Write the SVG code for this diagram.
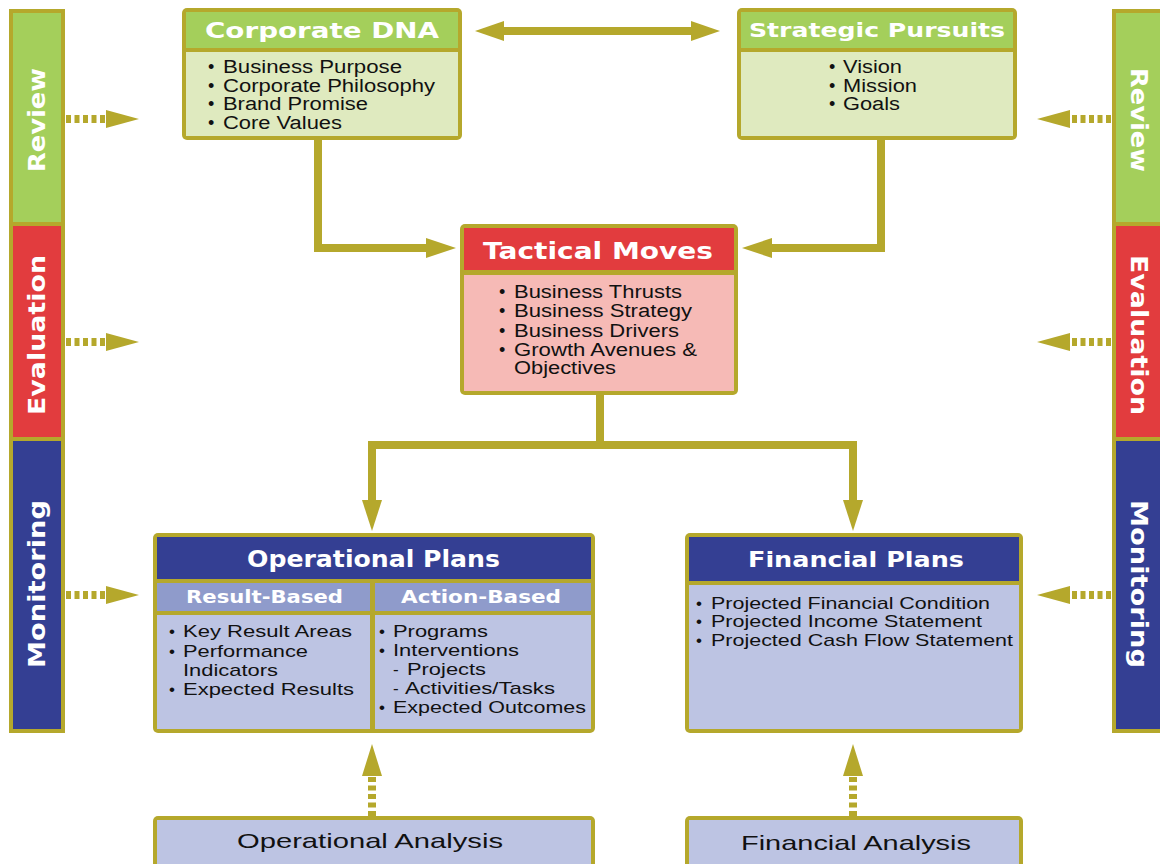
<svg xmlns="http://www.w3.org/2000/svg" width="1160" height="864" viewBox="0 0 1160 864">
<style>
.ol{fill:#b5a82c}
.gh{fill:#a4cf5b}
.gb{fill:#dfeabf}
.rh{fill:#e23c3e}
.rb{fill:#f6bab6}
.bh{fill:#343f93}
.bs{fill:#8f9bcb}
.bb{fill:#bdc4e3}
.hd{font-family:"DejaVu Sans","Liberation Sans",Arial,sans-serif;font-weight:bold;fill:#ffffff}
.tx{font-family:"Liberation Sans",Arial,sans-serif;fill:#111111}
.ln{stroke:#b5a82c;stroke-width:8;fill:none}
.dl{stroke:#b5a82c;stroke-width:8;fill:none;stroke-dasharray:5 3.5}
.ah{fill:#b5a82c}
</style>
<rect width="1160" height="864" fill="#ffffff"/>

<g id="sidebar-left">
<rect class="ol" x="9" y="9" width="56" height="724"/>
<rect class="gh" x="13" y="13" width="48" height="209"/>
<rect class="rh" x="13" y="226" width="48" height="211"/>
<rect class="bh" x="13" y="441" width="48" height="288"/>
<text class="hd" font-size="23" text-anchor="middle" transform="translate(45,120) rotate(-90)" textLength="104" lengthAdjust="spacingAndGlyphs">Review</text>
<text class="hd" font-size="23" text-anchor="middle" transform="translate(45,335) rotate(-90)" textLength="160" lengthAdjust="spacingAndGlyphs">Evaluation</text>
<text class="hd" font-size="23" text-anchor="middle" transform="translate(45,584) rotate(-90)" textLength="168" lengthAdjust="spacingAndGlyphs">Monitoring</text>
</g>

<g id="sidebar-right">
<rect class="ol" x="1112" y="9" width="56" height="724"/>
<rect class="gh" x="1116" y="13" width="48" height="209"/>
<rect class="rh" x="1116" y="226" width="48" height="211"/>
<rect class="bh" x="1116" y="441" width="48" height="288"/>
<text class="hd" font-size="23" text-anchor="middle" transform="translate(1131,120) rotate(90)" textLength="104" lengthAdjust="spacingAndGlyphs">Review</text>
<text class="hd" font-size="23" text-anchor="middle" transform="translate(1131,335) rotate(90)" textLength="160" lengthAdjust="spacingAndGlyphs">Evaluation</text>
<text class="hd" font-size="23" text-anchor="middle" transform="translate(1131,584) rotate(90)" textLength="168" lengthAdjust="spacingAndGlyphs">Monitoring</text>
</g>

<g id="corporate-dna">
<rect class="ol" x="182" y="8" width="280" height="132" rx="5"/>
<rect class="gh" x="186" y="12" width="272" height="36"/>
<rect class="gb" x="186" y="52" width="272" height="84"/>
<text class="hd" x="205" y="38" font-size="21.5" textLength="234" lengthAdjust="spacingAndGlyphs">Corporate DNA</text>
<g class="tx" font-size="18">
<text x="208" y="73">•</text><text x="223" y="73" textLength="179" lengthAdjust="spacingAndGlyphs">Business Purpose</text>
<text x="208" y="92">•</text><text x="223" y="92" textLength="212" lengthAdjust="spacingAndGlyphs">Corporate Philosophy</text>
<text x="208" y="110">•</text><text x="223" y="110" textLength="145" lengthAdjust="spacingAndGlyphs">Brand Promise</text>
<text x="208" y="129">•</text><text x="223" y="129" textLength="119" lengthAdjust="spacingAndGlyphs">Core Values</text>
</g>
</g>

<g id="strategic-pursuits">
<rect class="ol" x="737" y="8" width="280" height="132" rx="5"/>
<rect class="gh" x="741" y="12" width="272" height="36"/>
<rect class="gb" x="741" y="52" width="272" height="84"/>
<text class="hd" x="749" y="37" font-size="19.5" textLength="256" lengthAdjust="spacingAndGlyphs">Strategic Pursuits</text>
<g class="tx" font-size="18">
<text x="829" y="73">•</text><text x="843" y="73" textLength="59" lengthAdjust="spacingAndGlyphs">Vision</text>
<text x="829" y="92">•</text><text x="843" y="92" textLength="74" lengthAdjust="spacingAndGlyphs">Mission</text>
<text x="829" y="110">•</text><text x="843" y="110" textLength="57" lengthAdjust="spacingAndGlyphs">Goals</text>
</g>
</g>

<g id="tactical-moves">
<rect class="ol" x="460" y="224" width="278" height="171" rx="5"/>
<rect class="rh" x="464" y="228" width="270" height="42"/>
<rect class="rb" x="464" y="275" width="270" height="116"/>
<text class="hd" x="483" y="259" font-size="23.5" textLength="230" lengthAdjust="spacingAndGlyphs">Tactical Moves</text>
<g class="tx" font-size="18">
<text x="499" y="298">•</text><text x="514" y="298" textLength="168" lengthAdjust="spacingAndGlyphs">Business Thrusts</text>
<text x="499" y="317">•</text><text x="514" y="317" textLength="178" lengthAdjust="spacingAndGlyphs">Business Strategy</text>
<text x="499" y="337">•</text><text x="514" y="337" textLength="165" lengthAdjust="spacingAndGlyphs">Business Drivers</text>
<text x="499" y="356">•</text><text x="514" y="356" textLength="183" lengthAdjust="spacingAndGlyphs">Growth Avenues &amp;</text>
<text x="514" y="374" textLength="102" lengthAdjust="spacingAndGlyphs">Objectives</text>
</g>
</g>

<g id="operational-plans">
<rect class="ol" x="153" y="533" width="442" height="200" rx="5"/>
<rect class="bh" x="157" y="537" width="434" height="42"/>
<rect class="bs" x="157" y="583" width="213" height="28"/>
<rect class="bs" x="375" y="583" width="216" height="28"/>
<rect class="bb" x="157" y="615" width="213" height="114"/>
<rect class="bb" x="375" y="615" width="216" height="114"/>
<text class="hd" x="247" y="567" font-size="22.5" textLength="253" lengthAdjust="spacingAndGlyphs">Operational Plans</text>
<text class="hd" x="186" y="603" font-size="17.5" textLength="157" lengthAdjust="spacingAndGlyphs">Result-Based</text>
<text class="hd" x="401" y="603" font-size="17.5" textLength="160" lengthAdjust="spacingAndGlyphs">Action-Based</text>
<g class="tx" font-size="17">
<text x="169" y="637">•</text><text x="183" y="637" textLength="169" lengthAdjust="spacingAndGlyphs">Key Result Areas</text>
<text x="169" y="657">•</text><text x="183" y="657" textLength="125" lengthAdjust="spacingAndGlyphs">Performance</text>
<text x="183" y="676" textLength="95" lengthAdjust="spacingAndGlyphs">Indicators</text>
<text x="169" y="695">•</text><text x="183" y="695" textLength="171" lengthAdjust="spacingAndGlyphs">Expected Results</text>
<text x="379" y="637">•</text><text x="393" y="637" textLength="95" lengthAdjust="spacingAndGlyphs">Programs</text>
<text x="379" y="656">•</text><text x="393" y="656" textLength="126" lengthAdjust="spacingAndGlyphs">Interventions</text>
<text x="393" y="675">-</text><text x="407" y="675" textLength="79" lengthAdjust="spacingAndGlyphs">Projects</text>
<text x="393" y="694">-</text><text x="405" y="694" textLength="150" lengthAdjust="spacingAndGlyphs">Activities/Tasks</text>
<text x="379" y="713">•</text><text x="393" y="713" textLength="193" lengthAdjust="spacingAndGlyphs">Expected Outcomes</text>
</g>
</g>

<g id="financial-plans">
<rect class="ol" x="685" y="533" width="338" height="200" rx="5"/>
<rect class="bh" x="689" y="537" width="330" height="44"/>
<rect class="bb" x="689" y="585" width="330" height="144"/>
<text class="hd" x="748" y="567" font-size="21" textLength="216" lengthAdjust="spacingAndGlyphs">Financial Plans</text>
<g class="tx" font-size="17">
<text x="696" y="609">•</text><text x="711" y="609" textLength="279" lengthAdjust="spacingAndGlyphs">Projected Financial Condition</text>
<text x="696" y="627">•</text><text x="711" y="627" textLength="271" lengthAdjust="spacingAndGlyphs">Projected Income Statement</text>
<text x="696" y="646">•</text><text x="711" y="646" textLength="302" lengthAdjust="spacingAndGlyphs">Projected Cash Flow Statement</text>
</g>
</g>

<g id="operational-analysis">
<rect class="ol" x="153" y="816" width="442" height="60" rx="5"/>
<rect class="bb" x="157" y="820" width="434" height="52"/>
<text class="tx" x="237" y="848" font-size="21" textLength="266" lengthAdjust="spacingAndGlyphs">Operational Analysis</text>
</g>

<g id="financial-analysis">
<rect class="ol" x="685" y="816" width="338" height="60" rx="5"/>
<rect class="bb" x="689" y="820" width="330" height="52"/>
<text class="tx" x="741" y="850" font-size="21" textLength="230" lengthAdjust="spacingAndGlyphs">Financial Analysis</text>
</g>

<g id="connectors">
<line class="ln" x1="500" y1="31" x2="694" y2="31" stroke-width="7"/>
<polygon class="ah" points="475,31 504,21 504,41"/>
<polygon class="ah" points="720,31 691,21 691,41"/>
<polyline class="ln" points="318,140 318,248 430,248"/>
<polygon class="ah" points="456,248 426,238 426,258"/>
<polyline class="ln" points="881,140 881,248 768,248"/>
<polygon class="ah" points="742,248 772,238 772,258"/>
<line class="ln" x1="600" y1="395" x2="600" y2="445"/>
<line class="ln" x1="368" y1="445" x2="857" y2="445"/>
<line class="ln" x1="372" y1="445" x2="372" y2="504"/>
<polygon class="ah" points="372,531 362,500 382,500"/>
<line class="ln" x1="853" y1="445" x2="853" y2="504"/>
<polygon class="ah" points="853,531 843,500 863,500"/>
<line class="dl" x1="372" y1="816" x2="372" y2="773"/>
<polygon class="ah" points="372,744 362,776 382,776"/>
<line class="dl" x1="853" y1="816" x2="853" y2="773"/>
<polygon class="ah" points="853,744 843,776 863,776"/>
<line class="dl" x1="66" y1="119" x2="108" y2="119"/>
<polygon class="ah" points="139,119 106,110 106,128"/>
<line class="dl" x1="66" y1="342" x2="108" y2="342"/>
<polygon class="ah" points="139,342 106,333 106,351"/>
<line class="dl" x1="66" y1="595" x2="108" y2="595"/>
<polygon class="ah" points="139,595 106,586 106,604"/>
<line class="dl" x1="1111" y1="119" x2="1068" y2="119"/>
<polygon class="ah" points="1037,119 1070,110 1070,128"/>
<line class="dl" x1="1111" y1="342" x2="1068" y2="342"/>
<polygon class="ah" points="1037,342 1070,333 1070,351"/>
<line class="dl" x1="1111" y1="595" x2="1068" y2="595"/>
<polygon class="ah" points="1037,595 1070,586 1070,604"/>
</g>
</svg>
